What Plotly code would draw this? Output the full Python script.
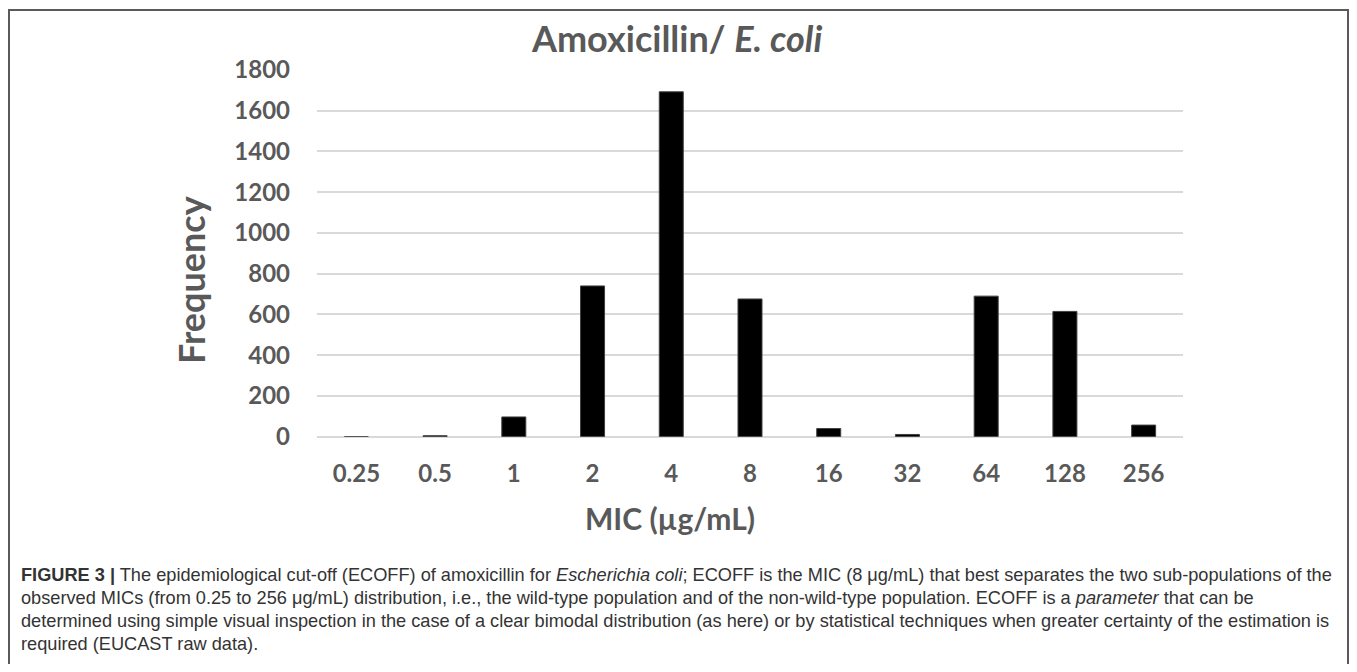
import plotly.graph_objects as go

# ---- data ----
mic_labels = ["0.25", "0.5", "1", "2", "4", "8", "16", "32", "64", "128", "256"]
frequency = [0, 5, 97, 740, 1693, 676, 40, 11, 690, 615, 57]
y_ticks = [0, 200, 400, 600, 800, 1000, 1200, 1400, 1600, 1800]

title_text = "<b>Amoxicillin/ <i>E. coli</i></b>"
x_title = "<b>MIC (µg/mL)</b>"
y_title = "<b>Frequency</b>"
caption_lines = [
    "<b>FIGURE 3 |</b> The epidemiological cut-off (ECOFF) of amoxicillin for <i>Escherichia coli</i>; ECOFF is the MIC (8 μg/mL) that best separates the two sub-populations of the",
    "observed MICs (from 0.25 to 256 μg/mL) distribution, i.e., the wild-type population and of the non-wild-type population. ECOFF is a <i>parameter</i> that can be",
    "determined using simple visual inspection in the case of a clear bimodal distribution (as here) or by statistical techniques when greater certainty of the estimation is",
    "required (EUCAST raw data).",
]

# page has an 8px body margin; figure sized to fit inside the window
OFF = 8
W, H = 1357 - 2 * OFF, 672 - 2 * OFF
GRAY = "#595959"
FONT = "Lato"


def px(x):
    return (x - OFF) / W


def py(y):
    return 1 - (y - OFF) / H


fig = go.Figure()
fig.add_trace(go.Bar(
    x=mic_labels, y=frequency,
    marker=dict(color="black", line=dict(color="#404040", width=1)),
    hoverinfo="x+y",
))

fig.update_layout(
    width=W, height=H,
    margin=dict(l=0, r=0, t=0, b=0, autoexpand=False),
    paper_bgcolor="white", plot_bgcolor="white",
    showlegend=False,
    bargap=0.695,
    xaxis=dict(
        domain=[px(317), px(1183)],
        type="category", automargin=False,
        showgrid=False, showline=False, zeroline=False,
        ticks="",
        tickfont=dict(family=FONT, size=24, color=GRAY, weight="bold"),
        ticklabelstandoff=20,
    ),
    yaxis=dict(
        domain=[py(436.7), py(70)],
        range=[0, 1800], automargin=False,
        tickvals=y_ticks,
        showgrid=True, gridcolor="#d9d9d9", gridwidth=1.5,
        zeroline=True, zerolinecolor="#d9d9d9", zerolinewidth=1.5,
        showline=False, ticks="",
        tickfont=dict(family=FONT, size=24, color=GRAY, weight="bold"),
        ticklabelstandoff=26,
    ),
)

annotations = [
    dict(text=title_text, x=px(676), y=py(38), xref="paper", yref="paper",
         showarrow=False, xanchor="center", yanchor="middle",
         font=dict(family=FONT, size=36, color=GRAY)),
    dict(text=x_title, x=px(670), y=py(518), xref="paper", yref="paper",
         showarrow=False, xanchor="center", yanchor="middle",
         font=dict(family=FONT, size=30, color=GRAY)),
    dict(text=y_title, x=px(191), y=py(280), xref="paper", yref="paper",
         showarrow=False, xanchor="center", yanchor="middle", textangle=-90,
         font=dict(family=FONT, size=36, color=GRAY)),
]
cap_y = [575, 598, 621, 644]
for line, yy in zip(caption_lines, cap_y):
    annotations.append(dict(
        text=line, x=px(19), y=py(yy), xref="paper", yref="paper",
        showarrow=False, xanchor="left", yanchor="middle", align="left",
        font=dict(family="Liberation Sans, Arial", size=18.2, color="#333333"),
    ))
fig.update_layout(annotations=annotations)

fig.add_shape(type="rect", xref="paper", yref="paper",
              x0=px(9), x1=px(1348), y0=py(10), y1=-0.1,
              line=dict(color="#5a5a5a", width=2), fillcolor="rgba(0,0,0,0)", layer="above")

fig.write_html("out.html")
